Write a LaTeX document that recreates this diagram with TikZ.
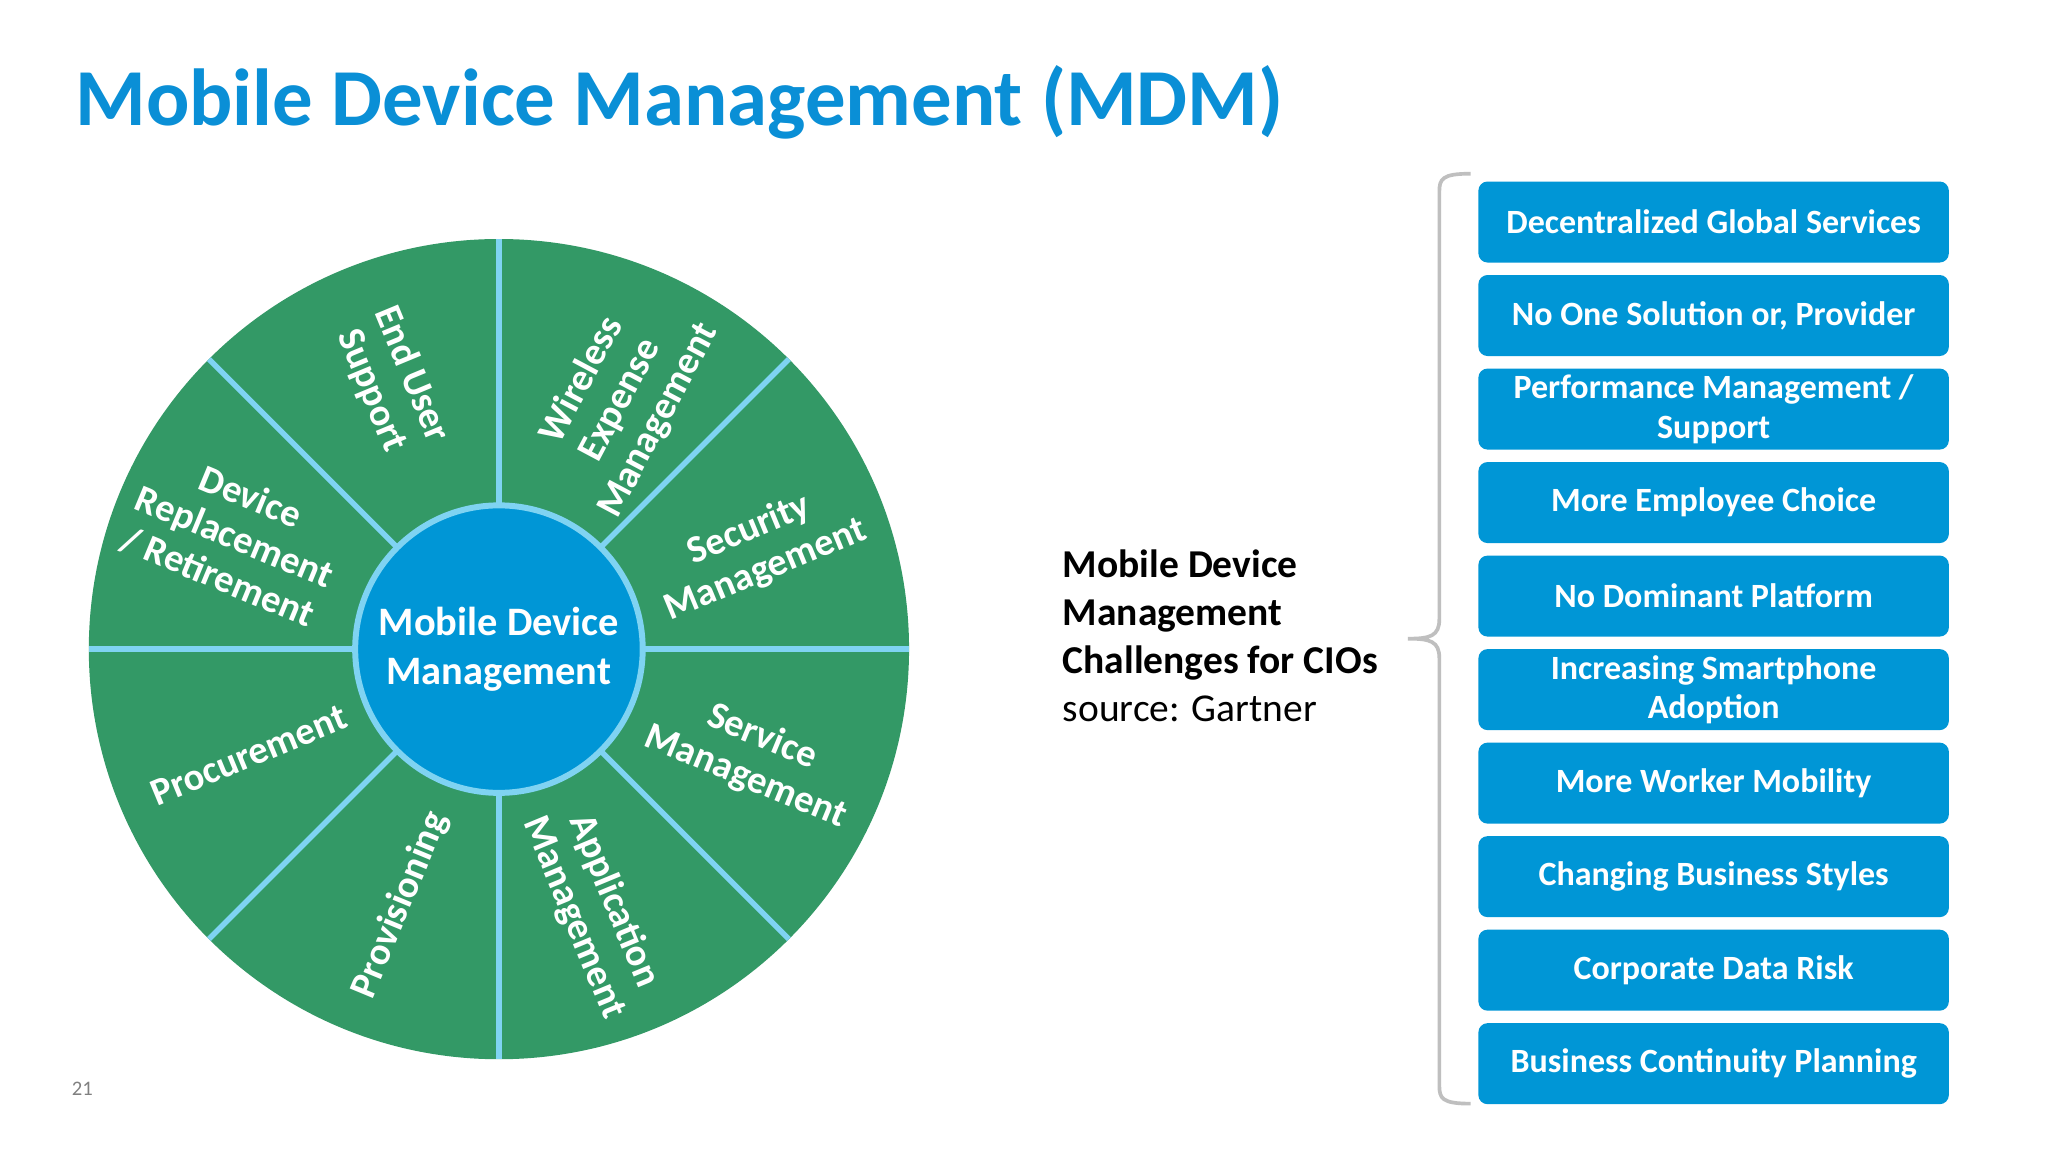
\documentclass[tikz,border=0pt]{standalone}
\usepackage{fontspec}
\setmainfont{Carlito}
\usetikzlibrary{calc}
\definecolor{wgreen}{HTML}{339966}
\definecolor{mblue}{HTML}{0096D6}
\definecolor{lblue}{HTML}{7FD3F2}
\definecolor{ttl}{HTML}{0A8FD6}
\begin{document}
\begin{tikzpicture}[x=0.01cm,y=0.01cm,
  seg/.style={font=\bfseries\fontsize{8.4}{9.4}\selectfont,text=white,align=center,inner sep=0},
  box/.style={fill=mblue,rounded corners=2pt,minimum width=3.6cm,minimum height=0.62cm,text=white,font=\bfseries\fontsize{7.4}{8.6}\selectfont,align=center,inner sep=1pt}]
\useasboundingbox (0,0) rectangle (1568,882);
\fill[white] (0,0) rectangle (1568,882);
\node[anchor=base west,text=ttl,font=\bfseries\fontsize{17.6}{20}\selectfont,inner sep=0] (title) at (57,786) {Mobile Device Management (MDM)};
\coordinate (C) at (382,385);
\fill[wgreen] (C) circle (314);
\foreach \a in {0,45,...,315} \draw[lblue,line width=1.2pt] ($(C)+(\a:108)$) -- ($(C)+(\a:314)$);
\node[circle,fill=mblue,draw=lblue,line width=1.3pt,minimum size=2.2cm,inner sep=0,text=white,font=\bfseries\fontsize{8.8}{10.6}\selectfont,align=center] (hub) at (C) {Mobile Device\\Management};
\node[seg,rotate=22.5] (s1) at ($(C)+(21:212)$) {Security\\Management};
\node[seg,rotate=62] (s2) at ($(C)+(64:212)$) {Wireless\\Expense\\Management};
\node[seg,rotate=-67.5] (s3) at ($(C)+(112:220)$) {End User\\Support};
\node[seg,rotate=-22.5] (s4) at ($(C)+(157:220)$) {Device\\Replacement\\/ Retirement};
\node[seg,rotate=22.5] (s5) at ($(C)+(203:208)$) {Procurement};
\node[seg,rotate=67.5] (s6) at ($(C)+(249:210)$) {Provisioning};
\node[seg,rotate=-67.5] (s7) at ($(C)+(290:212)$) {Application\\Management};
\node[seg,rotate=-22.5] (s8) at ($(C)+(337:212)$) {Service\\Management};
\node[anchor=north west,align=left,font=\fontsize{8.6}{10.5}\selectfont,inner sep=0] (mid) at (813,462) {\textbf{Mobile Device}\\\textbf{Management}\\\textbf{Challenges for CIOs}\\source: Gartner};
\foreach \t [count=\i] in {Decentralized Global Services,No One Solution or{,} Provider,Performance Management /\\Support,More Employee Choice,No Dominant Platform,Increasing Smartphone\\Adoption,More Worker Mobility,Changing Business Styles,Corporate Data Risk,Business Continuity Planning}
  \node[box] (b\i) at (1312,{882-170-(\i-1)*71.6}) {\t};
\draw[gray!50,line width=0.8pt] (1126,749) .. controls (1104,749) and (1102,745) .. (1102,735) -- (1102,408) .. controls (1102,395) and (1095,393) .. (1078,393) .. controls (1095,393) and (1102,391) .. (1102,378) -- (1102,51) .. controls (1102,41) and (1104,37) .. (1126,37);
\node[text=gray,font=\fontsize{4.5}{5}\selectfont] (pg) at (63,48) {21};
\end{tikzpicture}
\end{document}
